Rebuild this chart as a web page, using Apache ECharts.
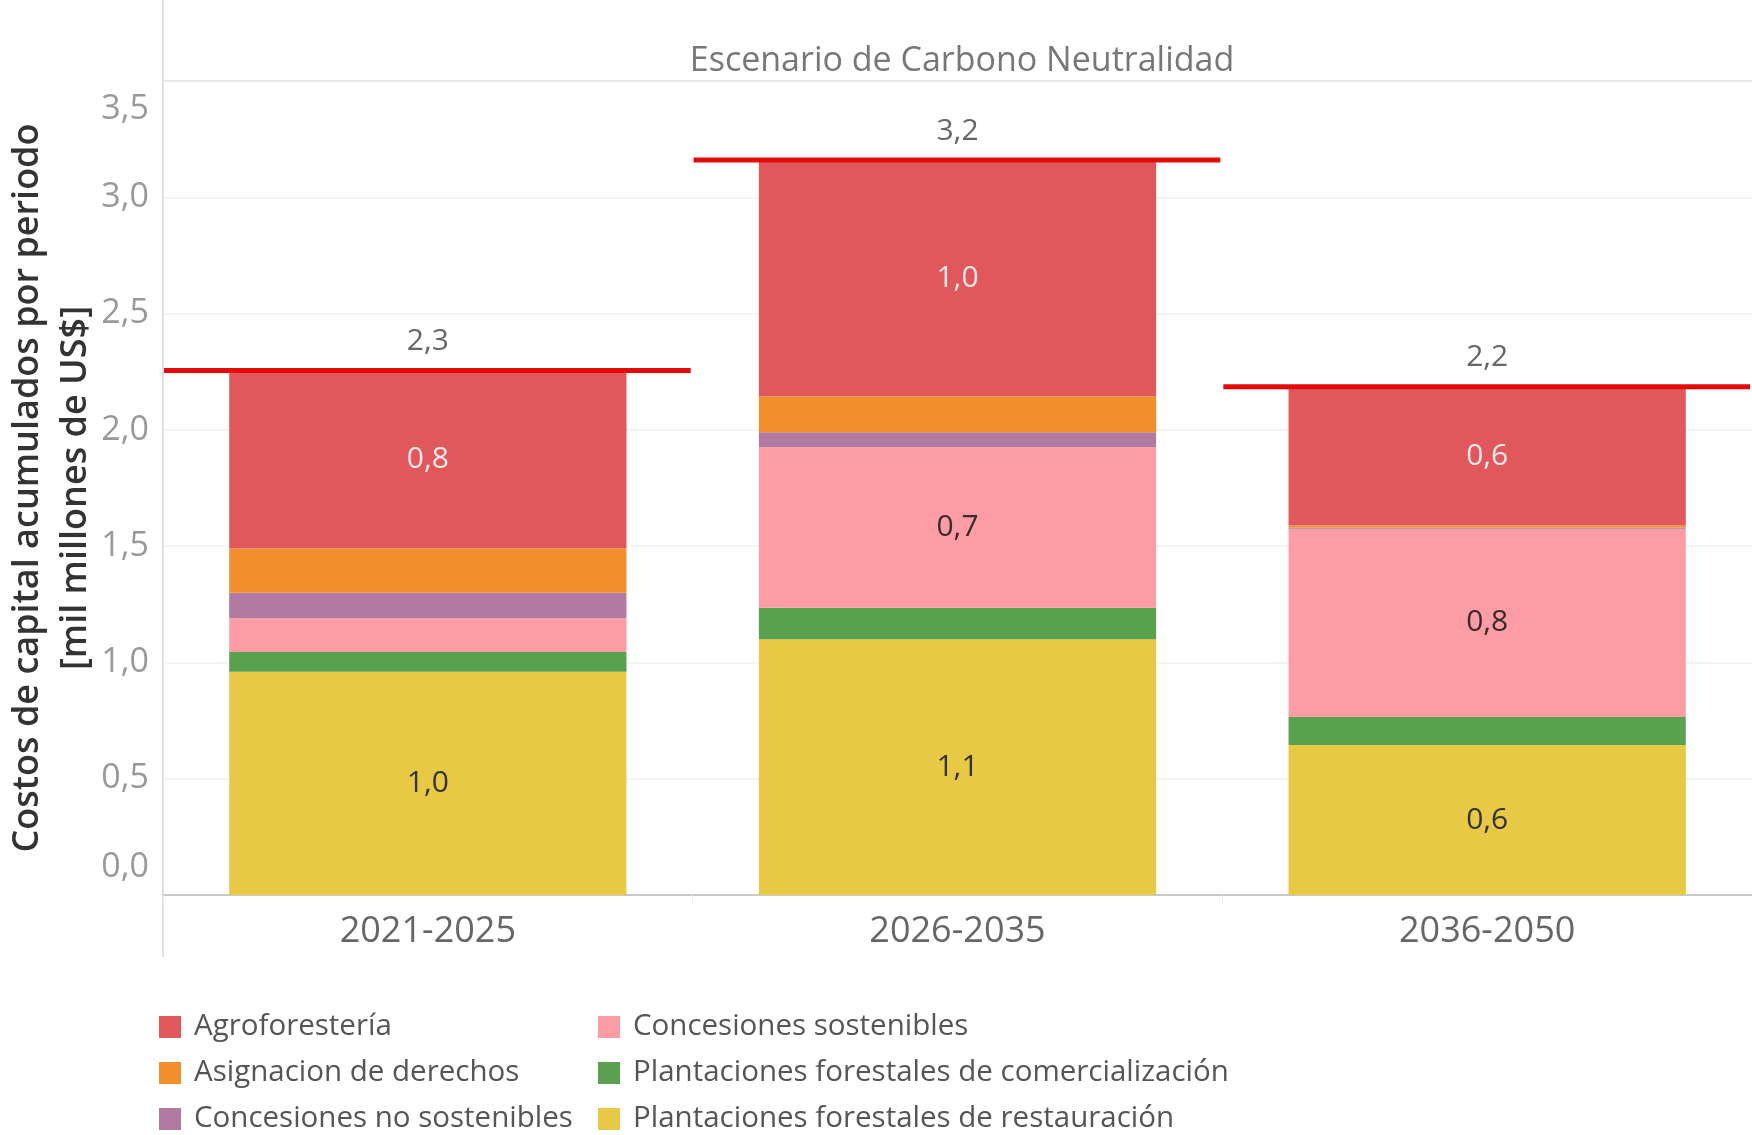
<!DOCTYPE html>
<html>
<head>
<meta charset="utf-8">
<script src="https://cdn.jsdelivr.net/npm/echarts@6/dist/echarts.min.js"></script>
<style>
  html, body { margin: 0; padding: 0; background: #fff; }
  #chart { width: 1752px; height: 1135px; }
</style>
</head>
<body>
<div id="chart"></div>
<script>
  // periodos
  var periodos = ['2021-2025', '2026-2035', '2036-2050'];

  // costos por categoria (mil millones de US$), de abajo hacia arriba
  var restauracion   = [0.96, 1.10, 0.645];
  var comercial      = [0.085, 0.135, 0.12];
  var sostenibles    = [0.145, 0.69, 0.81];
  var noSostenibles  = [0.11, 0.065, 0.005];
  var derechos       = [0.19, 0.155, 0.01];
  var agroforesteria = [0.765, 1.015, 0.595];

  var yTicks = { min: 0, max: 3.5, interval: 0.5 };

  var FONT = '"Open Sans", "Noto Sans", sans-serif';
  var fmt = function (v) { return v.toFixed(1).replace('.', ','); };

  var series = [
    { name: 'Plantaciones forestales de restauración', data: restauracion, color: '#e8c945', label: '#333' },
    { name: 'Plantaciones forestales de comercialización', data: comercial, color: '#59a14f', label: '#333' },
    { name: 'Concesiones sostenibles', data: sostenibles, color: '#fc9da6', label: '#3a2a2a' },
    { name: 'Concesiones no sostenibles', data: noSostenibles, color: '#b07aa1', label: '#333' },
    { name: 'Asignacion de derechos', data: derechos, color: '#f28e2b', label: '#333' },
    { name: 'Agroforestería', data: agroforesteria, color: '#e0585b', label: '#fbe9e9' }
  ];

  // total por periodo
  var totales = periodos.map(function (p, i) {
    var s = 0;
    series.forEach(function (se) { s += se.data[i]; });
    return [i, s];
  });

  var barSeries = series.map(function (se) {
    return {
      name: se.name,
      type: 'bar',
      stack: 'total',
      barWidth: '75%',
      itemStyle: { color: se.color },
      label: {
        show: true,
        position: 'inside',
        fontFamily: FONT,
        fontSize: 30,
        color: se.label,
        formatter: function (p) { return p.value >= 0.3 ? fmt(p.value) : ''; }
      },
      emphasis: { disabled: true },
      data: se.data
    };
  });

  // linea roja del total
  barSeries.push({
    name: 'Total',
    type: 'custom',
    z: 10,
    data: totales,
    renderItem: function (params, api) {
      var pt = api.coord([api.value(0), api.value(1)]);
      var w = api.size([1, 0])[0];
      return {
        type: 'group',
        children: [
          {
            type: 'line',
            shape: { x1: pt[0] - w / 2 + 1, y1: pt[1], x2: pt[0] + w / 2 - 2, y2: pt[1] },
            style: { stroke: '#e40a0a', lineWidth: 5 }
          },
          {
            type: 'text',
            style: {
              x: pt[0], y: pt[1] - 29,
              text: fmt(api.value(1)),
              fill: '#666',
              font: '30px ' + FONT,
              textAlign: 'center',
              textVerticalAlign: 'middle'
            }
          }
        ]
      };
    }
  });

  var legendText = { fontFamily: FONT, fontSize: 29.5, color: '#555', padding: [0, 0, 0, 8] };

  var chart = echarts.init(document.getElementById('chart'));
  chart.setOption({
    animation: false,
    backgroundColor: '#fff',
    title: {
      text: 'Escenario de Carbono Neutralidad',
      left: 957,
      top: 56,
      textAlign: 'center',
      textVerticalAlign: 'middle',
      textStyle: { fontFamily: FONT, fontSize: 34, fontWeight: 'normal', color: '#777' }
    },
    graphic: [
      { type: 'line', shape: { x1: 163, y1: 0, x2: 163, y2: 957 }, style: { stroke: '#d4d4d4', lineWidth: 1.5 } },
      { type: 'line', shape: { x1: 163, y1: 81, x2: 1752, y2: 81 }, style: { stroke: '#cfcfcf', lineWidth: 2 } }
    ],
    legend: [
      {
        orient: 'vertical', left: 159, top: 1012, height: 170, padding: 0,
        itemWidth: 22, itemHeight: 22, itemGap: 16,
        icon: 'rect',
        textStyle: legendText,
        data: ['Agroforestería', 'Asignacion de derechos', 'Concesiones no sostenibles']
      },
      {
        orient: 'vertical', left: 598, top: 1012, height: 170, padding: 0,
        itemWidth: 22, itemHeight: 22, itemGap: 16,
        icon: 'rect',
        textStyle: legendText,
        data: ['Concesiones sostenibles', 'Plantaciones forestales de comercialización', 'Plantaciones forestales de restauración']
      }
    ],
    grid: { left: 163, right: 0, top: 81, bottom: 240, outerBoundsMode: 'none', containLabel: false },
    xAxis: {
      type: 'category',
      data: periodos,
      axisLine: { lineStyle: { color: '#c8c8c8', width: 2 } },
      axisTick: { show: true, length: 10, lineStyle: { color: '#eeeeee' } },
      axisLabel: { fontFamily: FONT, fontSize: 36, color: '#666', margin: 19 }
    },
    yAxis: {
      type: 'value',
      min: yTicks.min,
      max: yTicks.max,
      interval: yTicks.interval,
      name: 'Costos de capital acumulados por periodo\n[mil millones de US$]',
      nameLocation: 'middle',
      nameRotate: 90,
      nameGap: 63,
      nameMoveOverlap: false,
      nameTextStyle: { fontFamily: FONT, fontSize: 36, fontWeight: 600, color: '#333', lineHeight: 48 },
      axisLine: { show: false },
      axisTick: { show: false },
      splitLine: { lineStyle: { color: '#f0f0f0', width: 1.5 } },
      axisLabel: {
        fontFamily: FONT, fontSize: 34, color: '#999', margin: 14,
        formatter: function (v) {
          if (v === yTicks.max) return '{top|' + fmt(v) + '}';
          if (v === yTicks.min) return '{bot|' + fmt(v) + '}';
          return fmt(v);
        },
        rich: {
          top: { fontFamily: FONT, fontSize: 34, color: '#999', padding: [56, 0, 0, 0] },
          bot: { fontFamily: FONT, fontSize: 34, color: '#999', padding: [0, 0, 56, 0] }
        }
      }
    },
    series: barSeries
  });
</script>
</body>
</html>
